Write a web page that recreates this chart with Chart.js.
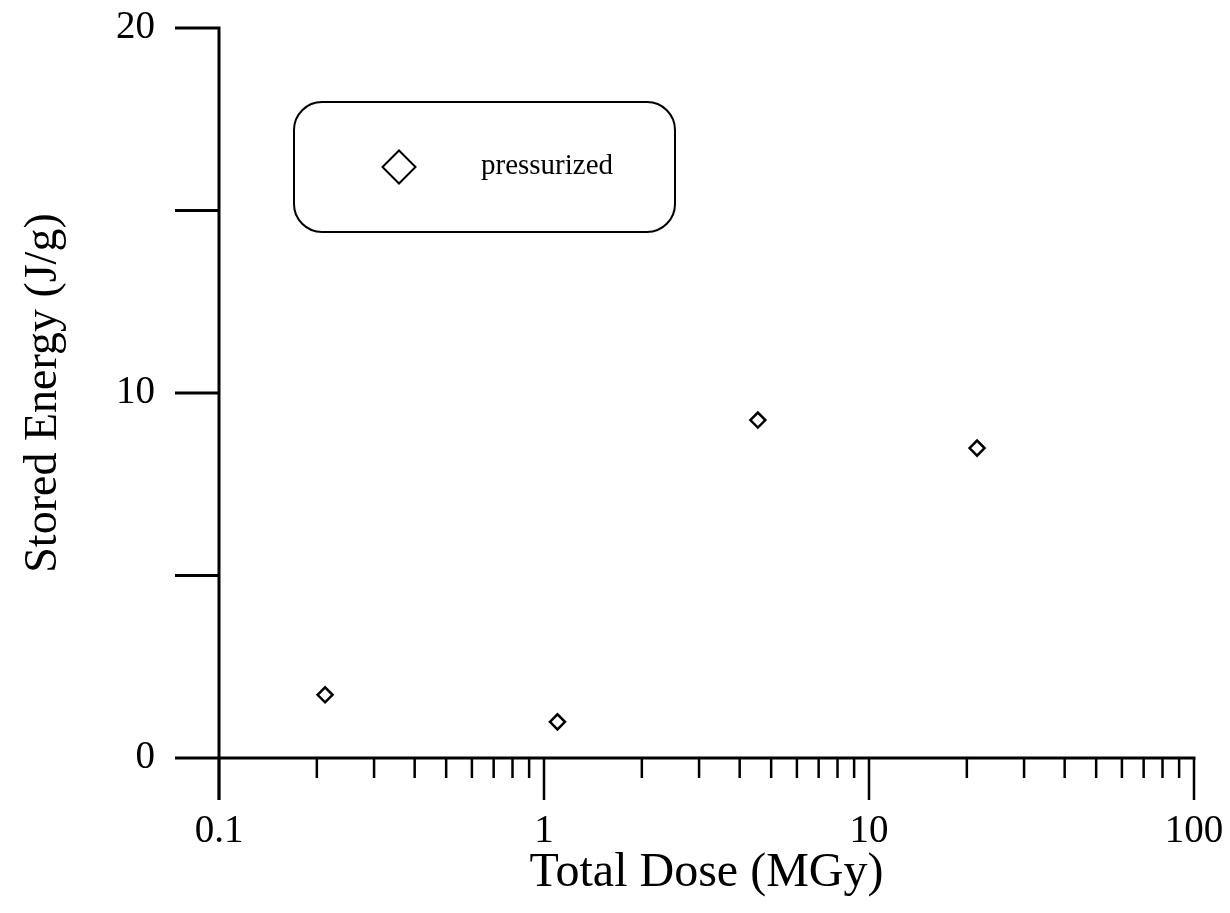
<!DOCTYPE html>
<html>
<head>
<meta charset="utf-8">
<script src="https://cdn.jsdelivr.net/npm/chart.js@4.4.1/dist/chart.umd.min.js"></script>
<style>
  body { margin: 0; background: #fff; }
  #wrap { width: 1230px; height: 913px; }
</style>
</head>
<body>
<div id="wrap"><canvas id="grafico"></canvas></div>
<script>
// data
const doseMGy = [0.212, 1.10, 4.55, 21.5];
const storedEnergy = [1.73, 0.99, 9.26, 8.49];
const serieNome = 'pressurized';

const xTicks = [0.1, 0.2, 0.3, 0.4, 0.5, 0.6, 0.7, 0.8, 0.9,
                1, 2, 3, 4, 5, 6, 7, 8, 9,
                10, 20, 30, 40, 50, 60, 70, 80, 90, 100];
const xMajor = [0.1, 1, 10, 100];
const xMin = 0.1, xMax = 100;
const yMin = 0, yMax = 20, yStep = 5;
const yLabeled = [0, 10, 20];

const serif = '"Liberation Serif", "Times New Roman", serif';

// axis lines + tick marks, drawn from the chart's scales
const eixos = {
  id: 'eixos',
  beforeDatasetsDraw(chart) {
    const { ctx, scales: { x, y } } = chart;
    const x0 = x.getPixelForValue(xMin);
    const x1 = x.getPixelForValue(xMax);
    const y0 = y.getPixelForValue(yMin);
    const yTop = y.getPixelForValue(yMax);
    ctx.save();
    ctx.strokeStyle = '#000';
    ctx.lineWidth = 3;
    ctx.beginPath();
    ctx.moveTo(x0 - 44, y0);
    ctx.lineTo(x1 + 1.5, y0);
    ctx.moveTo(x0, yTop - 1.5);
    ctx.lineTo(x0, y0 + 42);
    y.ticks.forEach(t => {
      const py = y.getPixelForValue(t.value);
      ctx.moveTo(x0 - 44, py);
      ctx.lineTo(x0, py);
    });
    ctx.stroke();
    ctx.beginPath();
    ctx.lineWidth = 2.5;
    x.ticks.forEach(t => {
      const px = x.getPixelForValue(t.value);
      const len = xMajor.includes(t.value) ? 42 : 20;
      ctx.moveTo(px, y0);
      ctx.lineTo(px, y0 + len);
    });
    ctx.stroke();
    ctx.restore();
  }
};

// rounded legend box
const legenda = {
  id: 'legenda',
  afterDraw(chart) {
    const { ctx } = chart;
    ctx.save();
    ctx.strokeStyle = '#000';
    ctx.lineWidth = 2;
    ctx.beginPath();
    ctx.roundRect(294, 102, 381, 130, 28);
    ctx.stroke();
    const ds = chart.data.datasets[0];
    ctx.fillStyle = 'rgba(255,255,255,0)';
    Chart.helpers.drawPoint(ctx, {
      pointStyle: 'rectRot', radius: 16.5, borderWidth: 2
    }, 399, 167);
    ctx.fillStyle = '#000';
    ctx.font = '29px ' + serif;
    ctx.textBaseline = 'middle';
    ctx.textAlign = 'left';
    ctx.fillText(ds.label, 481, 166);
    ctx.restore();
  }
};

const canvas = document.getElementById('grafico');
const ctx = canvas.getContext('2d');
const meuGrafico = new Chart(ctx, {
  type: 'scatter',
  data: {
    datasets: [{
      label: serieNome,
      data: doseMGy.map((d, i) => ({ x: d, y: storedEnergy[i] })),
      pointStyle: 'rectRot',
      pointRadius: 7.5,
      pointBorderWidth: 2.5,
      borderColor: '#000',
      backgroundColor: 'rgba(255,255,255,0)'
    }]
  },
  options: {
    responsive: true,
    maintainAspectRatio: false,
    animation: false,
    events: [],
    layout: { padding: { top: 28, right: 36, bottom: 0, left: 0 } },
    plugins: {
      legend: { display: false },
      tooltip: { enabled: false }
    },
    scales: {
      x: {
        type: 'logarithmic',
        min: xMin,
        max: xMax,
        grid: { display: false, drawTicks: true, tickLength: 50 },
        border: { display: false },
        afterBuildTicks: (s) => { s.ticks = xTicks.map(v => ({ value: v })); },
        afterFit: (s) => { s.height = 155; },
        ticks: {
          autoSkip: false,
          maxRotation: 0,
          padding: 0,
          color: '#000',
          font: { family: serif, size: 39 },
          callback: (v) => xMajor.includes(v) ? String(v) : ''
        },
        title: {
          display: true,
          text: 'Total Dose (MGy)',
          color: '#000',
          font: { family: serif, size: 48, lineHeight: 1 },
          padding: { top: 0, bottom: 16 }
        }
      },
      y: {
        min: yMin,
        max: yMax,
        grid: { display: false, drawTicks: true, tickLength: 64 },
        border: { display: false },
        afterFit: (s) => { s.width = 219; },
        ticks: {
          stepSize: yStep,
          padding: 0,
          color: '#000',
          font: { family: serif, size: 39 },
          callback: (v) => yLabeled.includes(v) ? String(v) : ''
        },
        title: {
          display: true,
          text: 'Stored Energy (J/g)',
          color: '#000',
          font: { family: serif, size: 46, lineHeight: 1 },
          padding: { top: 21, bottom: 0 }
        }
      }
    }
  },
  plugins: [eixos, legenda]
});
</script>
</body>
</html>
